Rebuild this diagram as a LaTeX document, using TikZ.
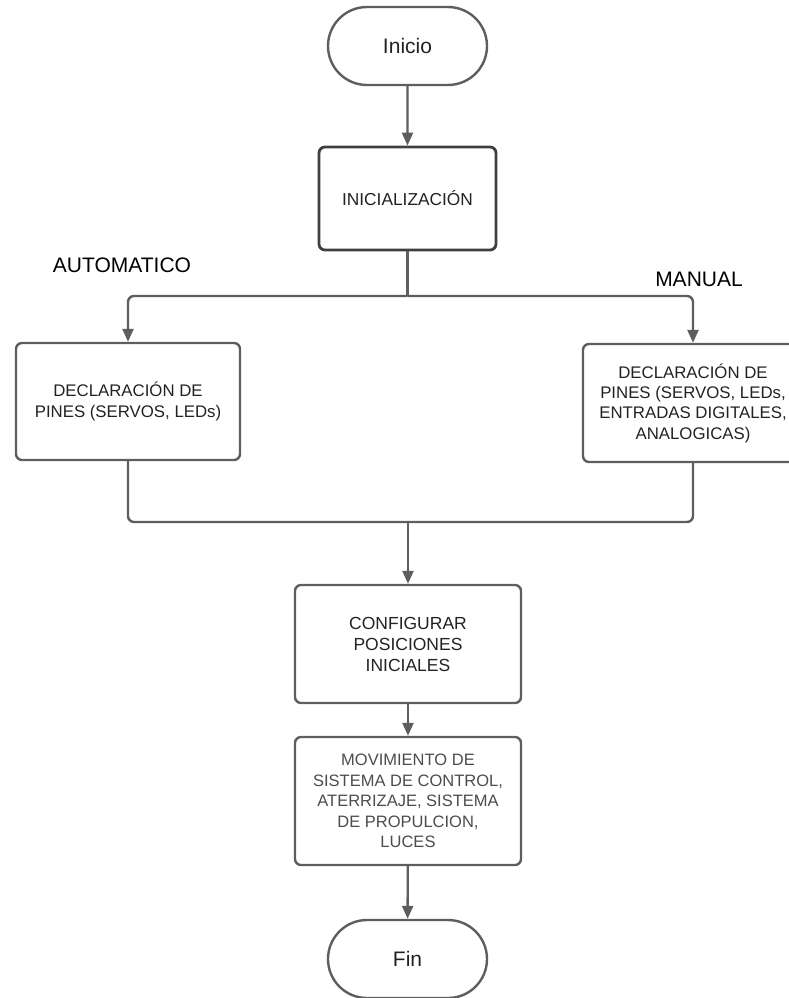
\documentclass[tikz,border=0pt]{standalone}
\usepackage{fontspec}
\setmainfont{Liberation Sans}
\usetikzlibrary{arrows.meta,shapes.misc}
\definecolor{linegray}{HTML}{5E5E5E}
\definecolor{txtgray}{HTML}{222222}
\tikzset{
  conn/.style={draw=linegray, line width=2.4pt, -{Triangle[length=13pt,width=11pt]}},
  plainconn/.style={draw=linegray, line width=2.4pt},
  termbox/.style={rounded rectangle, draw=linegray, line width=2.4pt, minimum width=159pt, minimum height=78pt, inner sep=0pt, font=\fontsize{21}{24}\selectfont, text=txtgray},
  procbox/.style={rectangle, rounded corners=6pt, draw=linegray, line width=2.4pt, inner sep=0pt, align=center, text=txtgray, font=\fontsize{16.5}{20.5}\selectfont},
  lbl/.style={font=\fontsize{21}{24}\selectfont, text=black, inner sep=0pt}
}
\begin{document}
\begin{tikzpicture}[x=1pt,y=-1pt]
\useasboundingbox (0,0) rectangle (789,998);
\node[termbox] (inicio) at (407.5,46) {Inicio};
\node[procbox, draw=black!75, line width=2.8pt, minimum width=177pt, minimum height=103pt, font=\fontsize{17.3}{20}\selectfont] (init) at (407.5,198.5) {INICIALIZACIÓN};
\node[lbl] (auto) at (122,265) {AUTOMATICO};
\node[lbl] (manual) at (699,279) {MANUAL};
\node[procbox, minimum width=224pt, minimum height=117pt, font=\fontsize{16.8}{21}\selectfont] (left) at (128,401.5) {DECLARACIÓN DE\\PINES (SERVOS, LEDs)};
\node[procbox, minimum width=220pt, minimum height=118pt, font=\fontsize{16.8}{20.3}\selectfont] (right) at (693,403) {DECLARACIÓN DE\\PINES (SERVOS, LEDs,\\ENTRADAS DIGITALES,\\ANALOGICAS)};
\node[procbox, minimum width=226pt, minimum height=118pt, font=\fontsize{17.5}{21}\selectfont] (cfg) at (408,644) {CONFIGURAR\\POSICIONES\\INICIALES};
\node[procbox, minimum width=226pt, minimum height=128pt, text=black!70] (mov) at (408,801) {MOVIMIENTO DE\\SISTEMA DE CONTROL,\\ATERRIZAJE, SISTEMA\\DE PROPULCION,\\LUCES};
\node[termbox] (fin) at (407.5,959) {Fin};
\coordinate (split) at (407.5,296);
\coordinate (merge) at (408,522);
\draw[conn] (inicio) -- (init);
\draw[plainconn] (init.south) -- (split);
\draw[conn, rounded corners=6pt] (split) -| (left.north);
\draw[conn, rounded corners=6pt] (split) -| (right.north);
\draw[plainconn, rounded corners=6pt] (left.south) |- (merge);
\draw[plainconn, rounded corners=6pt] (right.south) |- (merge);
\draw[conn] (merge) -- (cfg.north);
\draw[conn] (cfg) -- (mov);
\draw[conn] (mov) -- (fin);
\end{tikzpicture}
\end{document}
